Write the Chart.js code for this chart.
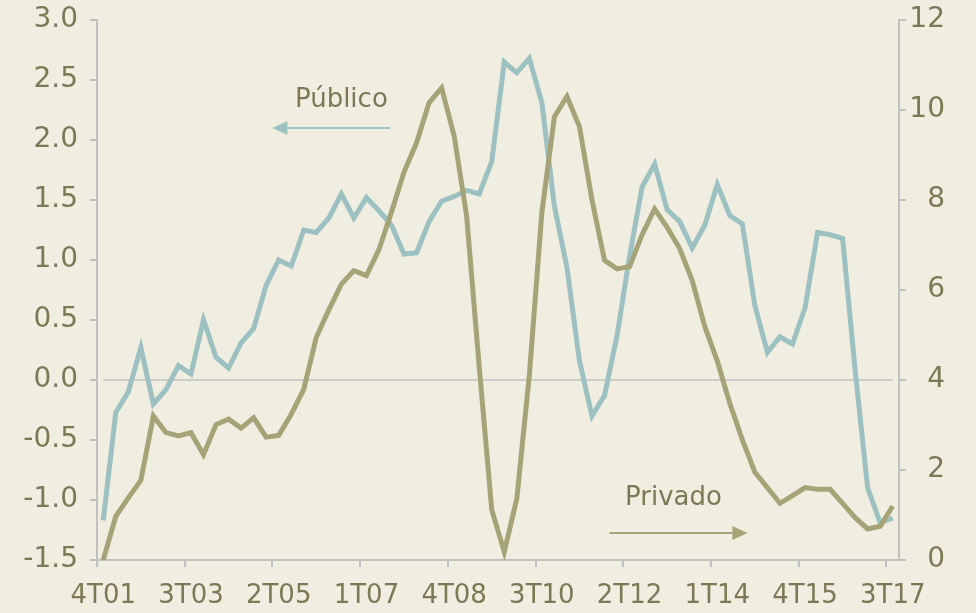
<!DOCTYPE html>
<html>
<head>
<meta charset="utf-8">
<script src="https://cdn.jsdelivr.net/npm/chart.js@4.4.1/dist/chart.umd.min.js"></script>
<style>
  html, body { margin: 0; padding: 0; background: #F0EEE0; }
  #wrap { position: relative; width: 976px; height: 613px; }
</style>
</head>
<body>
<div id="wrap"><canvas id="chart"></canvas></div>
<script>
const quarters = [
  "4T01",
  "1T02", "2T02", "3T02", "4T02",
  "1T03", "2T03", "3T03", "4T03",
  "1T04", "2T04", "3T04", "4T04",
  "1T05", "2T05", "3T05", "4T05",
  "1T06", "2T06", "3T06", "4T06",
  "1T07", "2T07", "3T07", "4T07",
  "1T08", "2T08", "3T08", "4T08",
  "1T09", "2T09", "3T09", "4T09",
  "1T10", "2T10", "3T10", "4T10",
  "1T11", "2T11", "3T11", "4T11",
  "1T12", "2T12", "3T12", "4T12",
  "1T13", "2T13", "3T13", "4T13",
  "1T14", "2T14", "3T14", "4T14",
  "1T15", "2T15", "3T15", "4T15",
  "1T16", "2T16", "3T16", "4T16",
  "1T17", "2T17", "3T17",
]

// left axis
const publico = [
  -1.17, -0.27, -0.10, 0.27, -0.20, -0.08, 0.12, 0.05, 0.50, 0.19, 0.10,
  0.31, 0.43, 0.79, 1.00, 0.95, 1.25, 1.23, 1.35, 1.55, 1.35, 1.52,
  1.41, 1.29, 1.05, 1.06, 1.32, 1.49, 1.53, 1.58, 1.55, 1.82, 2.65,
  2.56, 2.68, 2.31, 1.45, 0.94, 0.16, -0.30, -0.13, 0.37, 1.03, 1.61,
  1.80, 1.42, 1.32, 1.10, 1.29, 1.63, 1.37, 1.30, 0.62, 0.23,
  0.36, 0.30, 0.60, 1.23, 1.21, 1.18, 0.08, -0.90, -1.19, -1.15,
]

// right axis
const privado = [
  0.00, 0.97, 1.38, 1.77, 3.20, 2.83, 2.76, 2.83, 2.34, 3.01, 3.13,
  2.93, 3.16, 2.73, 2.77, 3.24, 3.79, 4.95, 5.56, 6.13, 6.43, 6.32,
  6.90, 7.73, 8.62, 9.27, 10.16, 10.49, 9.43, 7.64, 4.30, 1.12, 0.18,
  1.36, 4.10, 7.72, 9.85, 10.30, 9.63, 8.00, 6.66, 6.47, 6.52, 7.23,
  7.80, 7.39, 6.92, 6.21, 5.19, 4.42, 3.48, 2.67, 1.95, 1.61,
  1.26, 1.43, 1.61, 1.57, 1.57, 1.26, 0.94, 0.69, 0.75, 1.20,
]

const leftTicks = { min: -1.5, max: 3, step: 0.5 }
const rightTicks = { min: 0, max: 12, step: 2 }
const labelEvery = 7

const BLUE = "#9DC0C1"
const OLIVE = "#A7A378"
const TEXT = "#7D7856"
const AXIS = "#C0C0C0"
const FONT = "'DejaVu Sans', Verdana, sans-serif"
const FONT_SIZE = 26
const Y_FONT_SIZE = 28

// annotations: text and arrow, in data coordinates
const notes = [
  { text: "Público", scale: "yL", x: 19, y: 2.33, from: 22.9, to: 13.5, arrowY: 2.1, color: BLUE },
  { text: "Privado", scale: "yR", x: 45.5, y: 1.38, from: 40.4, to: 51.4, arrowY: 0.6, color: OLIVE },
]

const zeroLinePlugin = {
  id: "zeroLine",
  beforeDatasetsDraw(chart) {
    const { ctx, scales } = chart
    const y0 = scales.yL.getPixelForValue(0)
    ctx.save()
    ctx.strokeStyle = AXIS
    ctx.lineWidth = 1.5
    ctx.beginPath()
    ctx.moveTo(scales.x.getPixelForValue(0), y0)
    ctx.lineTo(scales.x.getPixelForValue(quarters.length - 1), y0)
    ctx.stroke()
    ctx.restore()
  },
}

const notesPlugin = {
  id: "notes",
  afterDatasetsDraw(chart) {
    const { ctx, scales } = chart
    notes.forEach((n) => {
      const ys = scales[n.scale]
      ctx.save()
      ctx.fillStyle = TEXT
      ctx.font = FONT_SIZE + "px " + FONT
      ctx.textAlign = "center"
      ctx.textBaseline = "middle"
      ctx.fillText(n.text, scales.x.getPixelForValue(n.x), ys.getPixelForValue(n.y))

      const x1 = scales.x.getPixelForValue(n.from)
      const x2 = scales.x.getPixelForValue(n.to)
      const y = ys.getPixelForValue(n.arrowY)
      const dir = x2 > x1 ? 1 : -1
      const head = 15
      ctx.strokeStyle = n.color
      ctx.fillStyle = n.color
      ctx.lineWidth = 2
      ctx.beginPath()
      ctx.moveTo(x1, y)
      ctx.lineTo(x2 - dir * head, y)
      ctx.stroke()
      ctx.beginPath()
      ctx.moveTo(x2, y)
      ctx.lineTo(x2 - dir * head, y - 7)
      ctx.lineTo(x2 - dir * head, y + 7)
      ctx.closePath()
      ctx.fill()
      ctx.restore()
    })
  },
}

// keep the plot area 20px from the top whatever the label padding is
const fitVertical = (width) => (scale) => {
  scale.width = width
  scale.paddingTop = 20
  scale.paddingBottom = 0
}

const createChart = (ctx) => {
  const data = {
    labels: quarters,
    datasets: [
      {
        label: "Privado",
        data: privado,
        yAxisID: "yR",
        borderColor: OLIVE,
        borderWidth: 5,
        pointRadius: 0,
        tension: 0,
      },
      {
        label: "Público",
        data: publico,
        yAxisID: "yL",
        borderColor: BLUE,
        borderWidth: 5,
        pointRadius: 0,
        tension: 0,
      },
    ],
  }

  const options = {
    responsive: false,
    animation: false,
    layout: {
      padding: { top: 0, right: 31, bottom: 0, left: 0 },
    },
    plugins: {
      legend: { display: false },
      tooltip: { enabled: false },
    },
    scales: {
      x: {
        type: "category",
        offset: true,
        border: { color: AXIS, width: 2 },
        grid: {
          offset: true,
          drawOnChartArea: false,
          tickLength: 7,
          color: (c) => (c.index % labelEvery === 0 ? AXIS : "rgba(0,0,0,0)"),
          lineWidth: 2,
        },
        ticks: {
          autoSkip: false,
          maxRotation: 0,
          padding: 14,
          color: TEXT,
          font: { family: FONT, size: FONT_SIZE },
          callback: function (value, index) {
            return index % labelEvery === 0 ? this.getLabelForValue(value) : ""
          },
        },
        afterFit: (scale) => {
          scale.height = 53
        },
      },
      yL: {
        position: "left",
        min: leftTicks.min,
        max: leftTicks.max,
        border: { color: AXIS, width: 2 },
        grid: { drawOnChartArea: false, tickLength: 7, color: AXIS, lineWidth: 2 },
        ticks: {
          stepSize: leftTicks.step,
          padding: 12,
          color: TEXT,
          font: { family: FONT, size: Y_FONT_SIZE },
          callback: (v) => v.toFixed(1),
        },
        afterFit: fitVertical(97),
      },
      yR: {
        position: "right",
        min: rightTicks.min,
        max: rightTicks.max,
        border: { color: AXIS, width: 2 },
        grid: { drawOnChartArea: false, tickLength: 7, color: AXIS, lineWidth: 2 },
        ticks: {
          stepSize: rightTicks.step,
          padding: 5,
          crossAlign: "far",
          color: TEXT,
          font: { family: FONT, size: Y_FONT_SIZE },
        },
        afterFit: fitVertical(46),
      },
    },
  }

  return new Chart(ctx, {
    type: "line",
    data: data,
    options: options,
    plugins: [zeroLinePlugin, notesPlugin],
  })
}

document.addEventListener("DOMContentLoaded", () => {
  const canvas = document.getElementById("chart")
  canvas.width = 976
  canvas.height = 613
  createChart(canvas.getContext("2d"))
})
</script>
</body>
</html>
